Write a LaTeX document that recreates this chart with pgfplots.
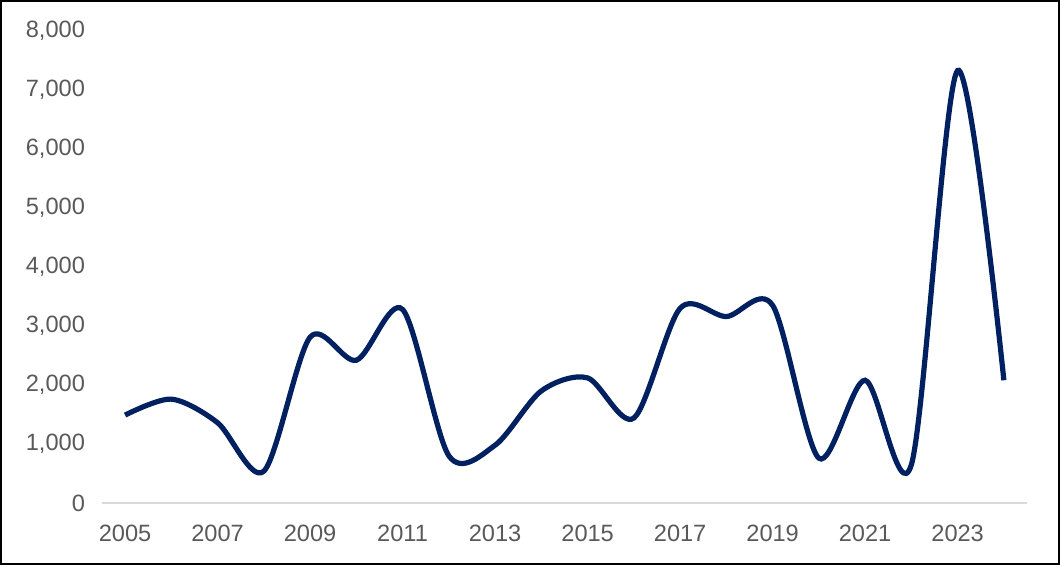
\documentclass[border=0pt]{standalone}
\usepackage{pgfplots}
\pgfplotsset{compat=1.18}
\usepackage{fontspec}
\setmainfont{Liberation Sans}
\definecolor{navy}{RGB}{0,32,96}
\definecolor{labgray}{RGB}{89,89,89}
\definecolor{axgray}{RGB}{217,217,217}
\begin{document}
\begin{tikzpicture}
\draw[black, line width=1pt] (0.5pt,0.5pt) rectangle (529.5pt,282pt);
\begin{axis}[
  at={(51pt,31pt)}, anchor=south west,
  scale only axis, width=462.5pt, height=236pt,
  xmin=2004.5, xmax=2024.5, ymin=0, ymax=8000,
  axis line style={draw=none},
  xtick={2005,2007,...,2023},
  ytick={0,1000,...,8000},
  major tick length=0pt,
  tick style={draw=none},
  xticklabel={\pgfmathprintnumber[1000 sep={}]{\tick}},
  /pgf/number format/assume math mode=true,
  /pgf/number format/1000 sep={,},
  /pgf/number format/fixed,
  ticklabel style={font=\fontsize{11.8pt}{14pt}\selectfont, text=labgray},
  xticklabel style={yshift=-7.5pt},
  yticklabel style={xshift=-5pt},
  clip=false,
]
\draw[axgray, line width=0.6pt] (axis cs:2004.5,0) -- (axis cs:2024.5,0);
\addplot[navy, line width=2.6pt, smooth, no markers] coordinates {
(2005,1490) (2006,1760) (2007,1360) (2008,540) (2009,2810)
(2010,2420) (2011,3280) (2012,800) (2013,980) (2014,1900)
(2015,2120) (2016,1440) (2017,3300) (2018,3160) (2019,3350)
(2020,760) (2021,2080) (2022,650) (2023,7330) (2024,2080)
};
\end{axis}
\end{tikzpicture}
\end{document}
